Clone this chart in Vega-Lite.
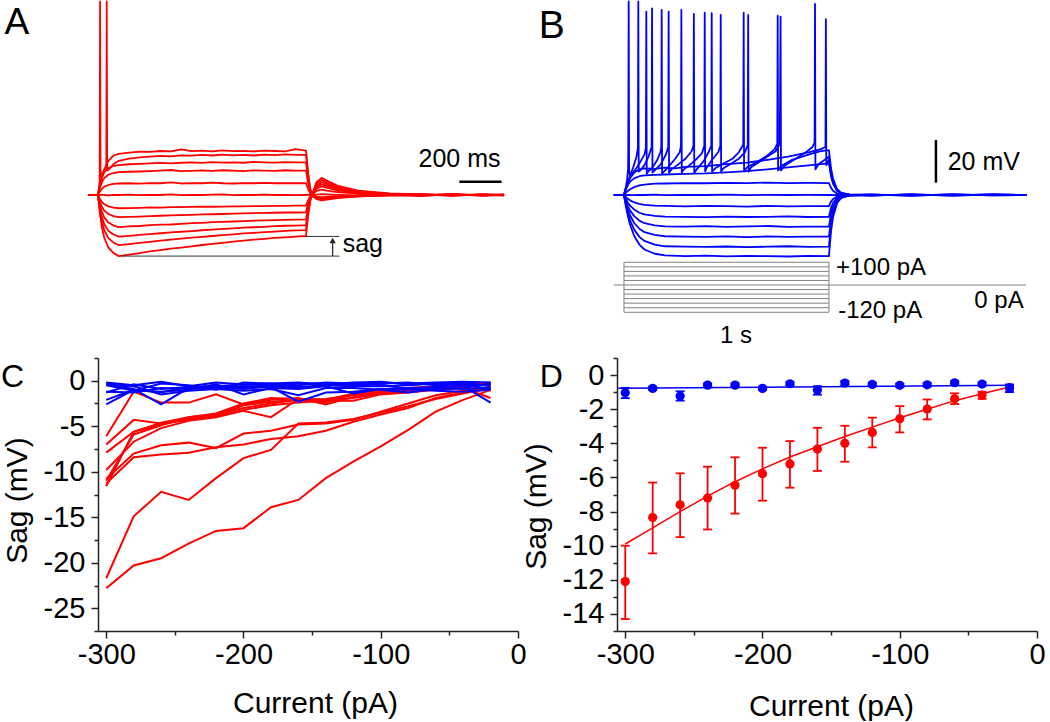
{
"$schema":"https://vega.github.io/schema/vega-lite/v6.json",
"background":"white",
"padding":{"left":0,"top":0,"right":0,"bottom":0},
"autosize":{"type":"pad"},
"config":{
 "view":{"stroke":null},
 "font":"Liberation Sans",
 "axis":{"labelFont":"Liberation Sans","titleFont":"Liberation Sans","labelFontSize":29,"titleFontSize":30,"titleFontWeight":"normal","labelColor":"#000","titleColor":"#000","domainColor":"#222","tickColor":"#222","domainWidth":1.5,"tickWidth":1.5,"tickSize":6,"grid":false,"labelOverlap":false,"labelFlush":false},
 "text":{"font":"Liberation Sans"}
},
"columns":2,
"bounds":"flush",
"spacing":{"row":28,"column":99},
"datasets":{
 "tA":[
  {"t":-48,"a1":0,"a2":0,"a3":0,"a4":0,"a5":0,"a6":0,"a7":0,"a8":0,"a9":0,"a10":0,"a11":0,"a12":0},
  {"t":0,"a1":0,"a2":0,"a3":0,"a4":0,"a5":0,"a6":0,"a7":0,"a8":0,"a9":0,"a10":0,"a11":0,"a12":0},
  {"t":5,"a1":3.5,"a2":2.8,"a3":2.7,"a4":2.0,"a5":1.0,"a6":0.1,"a7":-1.1,"a8":-1.9,"a9":-2.7,"a10":-3.5,"a11":-4.2,"a12":-5.1},
  {"t":8,"a1":6.5},
  {"t":10,"a1":90.6,"a2":5.2,"a3":5.0,"a4":3.7,"a5":1.8,"a6":-0.1,"a7":-2.0,"a8":-3.4,"a9":-5.0,"a10":-6.4,"a11":-7.8,"a12":-9.4},
  {"t":12,"a1":12},
  {"t":15,"a1":8.5},
  {"t":20,"a1":9.0,"a2":9.0,"a3":8.4,"a4":6.2,"a5":3.0,"a6":0.2,"a7":-3.4,"a8":-5.7,"a9":-8.3,"a10":-10.7,"a11":-12.9,"a12":-15.7},
  {"t":30,"a1":12.0,"a2":11.5,"a3":10.6,"a4":7.9,"a5":3.9,"a6":0.0,"a7":-4.3,"a8":-7.3,"a9":-10.5,"a10":-13.7,"a11":-16.5,"a12":-20.0},
  {"t":40,"a2":13.2},
  {"t":42,"a2":90.6},
  {"t":44,"a2":14},
  {"t":47,"a2":11.5},
  {"t":50,"a1":16.0,"a2":11.8,"a3":12.6,"a4":9.5,"a5":4.7,"a6":-0.2,"a7":-5.3,"a8":-8.9,"a9":-12.9,"a10":-16.8,"a11":-20.2,"a12":-24.6},
  {"t":75,"a1":18.5,"a2":14.5,"a3":13.6,"a4":10.3,"a5":5.2,"a6":0.1,"a7":-5.9,"a8":-9.9,"a9":-14.3,"a10":-18.5,"a11":-22.3,"a12":-27.2},
  {"t":100,"a1":19.3,"a2":16.0,"a3":14.0,"a4":10.7,"a5":5.4,"a6":0.0,"a7":-6.2,"a8":-10.4,"a9":-15.0,"a10":-19.5,"a11":-23.5,"a12":-28.6},
  {"t":150,"a1":19.8,"a2":17.0,"a3":14.4,"a4":10.9,"a5":5.5,"a6":0.2,"a7":-6.1,"a8":-10.2,"a9":-14.7,"a10":-19.1,"a11":-23.0,"a12":-27.9},
  {"t":200,"a1":20.3,"a2":17.6,"a3":14.6,"a4":11.0,"a5":5.3,"a6":-0.1,"a7":-6.0,"a8":-10.1,"a9":-14.5,"a10":-18.7,"a11":-22.4,"a12":-27.2},
  {"t":250,"a1":20.2,"a2":18.0,"a3":14.8,"a4":11.2,"a5":5.6,"a6":0.1,"a7":-5.8,"a8":-9.9,"a9":-14.1,"a10":-18.3,"a11":-21.9,"a12":-26.4},
  {"t":300,"a1":20.6,"a2":18.3,"a3":15.0,"a4":11.4,"a5":5.5,"a6":0.0,"a7":-5.9,"a8":-9.7,"a9":-13.9,"a10":-17.9,"a11":-21.4,"a12":-25.8},
  {"t":350,"a1":20.4,"a2":18.1,"a3":14.8,"a4":11.7,"a5":5.9,"a6":0.3,"a7":-5.7,"a8":-9.5,"a9":-13.8,"a10":-17.5,"a11":-20.9,"a12":-25.1},
  {"t":400,"a1":21.4,"a2":18.6,"a3":15.1,"a4":11.2,"a5":5.4,"a6":-0.1,"a7":-5.7,"a8":-9.4,"a9":-13.5,"a10":-17.2,"a11":-20.4,"a12":-24.6},
  {"t":450,"a1":20.5,"a2":18.4,"a3":15.3,"a4":11.3,"a5":5.6,"a6":0.1,"a7":-5.6,"a8":-9.3,"a9":-13.2,"a10":-16.9,"a11":-20.0,"a12":-24.0},
  {"t":500,"a1":20.8,"a2":18.8,"a3":15.0,"a4":11.5,"a5":5.5,"a6":0.0,"a7":-5.4,"a8":-9.1,"a9":-13.0,"a10":-16.5,"a11":-19.6,"a12":-23.4},
  {"t":550,"a1":20.4,"a2":18.5,"a3":15.4,"a4":11.3,"a5":5.8,"a6":0.2,"a7":-5.5,"a8":-9.0,"a9":-12.7,"a10":-16.2,"a11":-19.2,"a12":-22.9},
  {"t":600,"a1":20.9,"a2":18.9,"a3":15.2,"a4":11.6,"a5":5.5,"a6":0.3,"a7":-5.4,"a8":-8.9,"a9":-12.6,"a10":-15.9,"a11":-18.8,"a12":-22.4},
  {"t":650,"a1":20.5,"a2":18.6,"a3":15.3,"a4":11.4,"a5":5.4,"a6":-0.1,"a7":-5.3,"a8":-8.7,"a9":-12.4,"a10":-15.6,"a11":-18.4,"a12":-21.8},
  {"t":700,"a1":20.7,"a2":18.8,"a3":15.1,"a4":11.2,"a5":5.6,"a6":0.1,"a7":-5.3,"a8":-8.6,"a9":-12.2,"a10":-15.3,"a11":-18.0,"a12":-21.4},
  {"t":750,"a1":20.4,"a2":18.5,"a3":15.5,"a4":11.5,"a5":5.5,"a6":0.0,"a7":-5.2,"a8":-8.5,"a9":-12.0,"a10":-15.1,"a11":-17.7,"a12":-20.9},
  {"t":800,"a1":20.8,"a2":18.9,"a3":15.3,"a4":11.4,"a5":5.7,"a6":0.2,"a7":-5.2,"a8":-8.4,"a9":-11.9,"a10":-14.9,"a11":-17.4,"a12":-20.5},
  {"t":850,"a1":20.6,"a2":18.7,"a3":15.2,"a4":11.3,"a5":5.5,"a6":0.0,"a7":-5.1,"a8":-8.3,"a9":-11.8,"a10":-14.6,"a11":-17.1,"a12":-20.1},
  {"t":900,"a1":20.4,"a2":19.0,"a3":15.4,"a4":11.6,"a5":5.6,"a6":0.1,"a7":-5.1,"a8":-8.2,"a9":-11.6,"a10":-14.4,"a11":-16.8,"a12":-19.8},
  {"t":950,"a1":21.5,"a2":18.8,"a3":15.3,"a4":11.4,"a5":5.5,"a6":-0.1,"a7":-5.0,"a8":-8.2,"a9":-11.5,"a10":-14.3,"a11":-16.6,"a12":-19.5},
  {"t":1000,"a1":20.8,"a2":18.8,"a3":15.3,"a4":11.4,"a5":5.5,"a6":0.0,"a7":-5.0,"a8":-8.1,"a9":-11.4,"a10":-14.1,"a11":-16.4,"a12":-19.2},
  {"t":1010,"a1":10.4,"a2":9.4,"a3":7.7,"a4":5.7,"a5":2.8,"a6":0.2,"a7":-2.5,"a8":-4.0,"a9":-5.7,"a10":-7.0,"a11":-8.2,"a12":-9.6},
  {"t":1020,"a1":3.1,"a2":2.8,"a3":2.3,"a4":1.7,"a5":0.8,"a6":-0.1,"a7":-0.8,"a8":-1.2,"a9":-1.7,"a10":-2.1,"a11":-2.5,"a12":-2.9},
  {"t":1030,"a1":-0.3,"a2":-0.3,"a3":-0.2,"a4":-0.2,"a5":-0.1,"a6":0.1,"a7":0.0,"a8":0.1,"a9":0.1,"a10":0.2,"a11":0.2,"a12":0.3},
  {"t":1050,"a1":-1.9,"a2":-1.7,"a3":-1.5,"a4":-1.1,"a5":-0.8,"a6":0.2,"a7":1.9,"a8":3.0,"a9":3.8,"a10":4.5,"a11":5.3,"a12":6.0},
  {"t":1075,"a1":-2.5,"a2":-2.2,"a3":-2.0,"a4":-1.5,"a5":-1.0,"a6":0.4,"a7":2.5,"a8":4.0,"a9":5.0,"a10":6.0,"a11":7.0,"a12":8.0},
  {"t":1100,"a1":-2.1,"a2":-1.9,"a3":-1.7,"a4":-1.3,"a5":-0.9,"a6":0.3,"a7":2.1,"a8":3.4,"a9":4.3,"a10":5.1,"a11":6.0,"a12":6.8},
  {"t":1150,"a1":-1.4,"a2":-1.2,"a3":-1.1,"a4":-0.8,"a5":-0.6,"a6":0.1,"a7":1.4,"a8":2.2,"a9":2.8,"a10":3.3,"a11":3.9,"a12":4.4},
  {"t":1250,"a1":-0.6,"a2":-0.6,"a3":-0.5,"a4":-0.4,"a5":-0.3,"a6":-0.2,"a7":0.6,"a8":1.0,"a9":1.3,"a10":1.5,"a11":1.8,"a12":2.0},
  {"t":1400,"a1":0.0,"a2":-0.2,"a3":-0.2,"a4":-0.1,"a5":0.2,"a6":0.3,"a7":0.1,"a8":0.4,"a9":0.3,"a10":0.6,"a11":0.5,"a12":0.7},
  {"t":1550,"a1":0.3,"a2":-0.3,"a3":0.2,"a4":0.3,"a5":-0.2,"a6":-0.3,"a7":-0.3,"a8":0.3,"a9":-0.2,"a10":0.2,"a11":-0.3,"a12":0.3},
  {"t":1700,"a1":-0.3,"a2":0.2,"a3":0.3,"a4":-0.2,"a5":0.3,"a6":0.2,"a7":0.2,"a8":-0.2,"a9":0.3,"a10":-0.3,"a11":0.4,"a12":-0.2},
  {"t":1850,"a1":0.2,"a2":0.1,"a3":-0.2,"a4":0.2,"a5":-0.3,"a6":0.0,"a7":-0.1,"a8":0.2,"a9":-0.3,"a10":0.3,"a11":-0.2,"a12":0.3},
  {"t":1952,"a1":0.0,"a2":-0.2,"a3":0.1,"a4":-0.1,"a5":0.1,"a6":-0.2,"a7":0.3,"a8":-0.2,"a9":0.2,"a10":-0.1,"a11":0.2,"a12":0.0}
 ],
 "tB":[
  {"t":-49,"b4":0,"b5":0,"b6":0,"b7":0,"b8":0,"b9":0,"b10":0,"b11":0,"b12":0},
  {"t":0,"b4":0,"b5":0,"b6":0,"b7":0,"b8":0,"b9":0,"b10":0,"b11":0,"b12":0},
  {"t":5,"b4":1.4,"b5":0.6,"b6":0.1,"b7":-0.5,"b8":-1.1,"b9":-1.6,"b10":-2.0,"b11":-2.5,"b12":-3.0},
  {"t":10,"b4":2.7,"b5":1.1,"b6":-0.1,"b7":-1.0,"b8":-2.0,"b9":-3.0,"b10":-3.9,"b11":-4.8,"b12":-5.7},
  {"t":20,"b4":4.8,"b5":2.0,"b6":0.1,"b7":-1.9,"b8":-3.7,"b9":-5.3,"b10":-7.0,"b11":-8.7,"b12":-10.3},
  {"t":30,"b4":6.3,"b5":2.7,"b6":0,"b7":-2.5,"b8":-5.0,"b9":-7.3,"b10":-9.6,"b11":-11.9,"b12":-14.0},
  {"t":50,"b4":7.8,"b5":3.7,"b6":-0.1,"b7":-3.5,"b8":-6.8,"b9":-9.9,"b10":-13.1,"b11":-16.2,"b12":-19.2},
  {"t":75,"b4":8.8,"b5":4.5,"b6":0.1,"b7":-4.2,"b8":-8.3,"b9":-12.0,"b10":-15.8,"b11":-19.6,"b12":-23.2},
  {"t":100,"b4":9.2,"b5":4.9,"b6":0,"b7":-4.6,"b8":-9.1,"b9":-13.2,"b10":-17.4,"b11":-21.5,"b12":-25.5},
  {"t":150,"b4":9.4,"b5":5.3,"b6":0.2,"b7":-5.0,"b8":-9.8,"b9":-14.2,"b10":-18.7,"b11":-23.2,"b12":-27.5},
  {"t":200,"b4":9.6,"b5":5.4,"b6":-0.1,"b7":-5.1,"b8":-10.1,"b9":-14.7,"b10":-19.3,"b11":-24.0,"b12":-28.3},
  {"t":300,"b4":9.9,"b5":5.6,"b6":0.1,"b7":-5.3,"b8":-10.2,"b9":-14.8,"b10":-19.5,"b11":-24.2,"b12":-28.6},
  {"t":400,"b4":10.1,"b5":5.5,"b6":0,"b7":-5.1,"b8":-10.4,"b9":-14.6,"b10":-19.6,"b11":-24.3,"b12":-28.4},
  {"t":500,"b4":10.6,"b5":5.7,"b6":0.2,"b7":-5.2,"b8":-10.1,"b9":-14.9,"b10":-19.4,"b11":-24.1,"b12":-28.7},
  {"t":600,"b4":11.2,"b5":5.6,"b6":-0.1,"b7":-5.4,"b8":-10.3,"b9":-14.7,"b10":-19.7,"b11":-24.4,"b12":-28.5},
  {"t":700,"b4":12.0,"b5":5.8,"b6":0.1,"b7":-5.1,"b8":-10.2,"b9":-14.5,"b10":-19.4,"b11":-24.2,"b12":-28.6},
  {"t":800,"b4":12.9,"b5":5.6,"b6":0,"b7":-5.3,"b8":-10.0,"b9":-14.9,"b10":-19.6,"b11":-24.0,"b12":-28.8},
  {"t":900,"b4":13.9,"b5":5.7,"b6":0.1,"b7":-5.2,"b8":-10.3,"b9":-14.8,"b10":-19.5,"b11":-24.3,"b12":-28.5},
  {"t":1000,"b4":14.8,"b5":5.6,"b6":0,"b7":-5.2,"b8":-10.2,"b9":-14.8,"b10":-19.5,"b11":-24.2,"b12":-28.6},
  {"t":1010,"b4":8.9,"b5":3.4,"b6":0.1,"b7":-3.1,"b8":-6.1,"b9":-8.9,"b10":-11.7,"b11":-14.5,"b12":-17.2},
  {"t":1020,"b4":5.3,"b5":2.0,"b6":-0.1,"b7":-1.9,"b8":-3.7,"b9":-5.3,"b10":-7.0,"b11":-8.7,"b12":-10.3},
  {"t":1040,"b4":1.9,"b5":0.7,"b6":0,"b7":-0.7,"b8":-1.3,"b9":-1.9,"b10":-2.5,"b11":-3.1,"b12":-3.7},
  {"t":1060,"b4":0.7,"b5":0.3,"b6":0.1,"b7":-0.3,"b8":-0.5,"b9":-0.7,"b10":-1.0,"b11":-1.2,"b12":-1.4},
  {"t":1100,"b4":0.1,"b5":0.1,"b6":-0.1,"b7":-0.1,"b8":-0.1,"b9":-0.1,"b10":-0.2,"b11":-0.2,"b12":-0.3},
  {"t":1200,"b4":-0.2,"b5":0.2,"b6":0.2,"b7":0.1,"b8":-0.2,"b9":0.2,"b10":0.1,"b11":-0.1,"b12":0.1},
  {"t":1400,"b4":0.2,"b5":-0.2,"b6":-0.2,"b7":-0.2,"b8":0.2,"b9":-0.1,"b10":-0.2,"b11":0.2,"b12":-0.1},
  {"t":1600,"b4":-0.2,"b5":0.2,"b6":0.1,"b7":0.2,"b8":-0.1,"b9":0.2,"b10":0.1,"b11":-0.2,"b12":0.2},
  {"t":1800,"b4":0.2,"b5":-0.1,"b6":-0.1,"b7":-0.1,"b8":0.2,"b9":-0.2,"b10":0.2,"b11":0.1,"b12":-0.1},
  {"t":1966,"b4":0,"b5":0,"b6":0,"b7":0,"b8":0,"b9":0,"b10":0,"b11":0,"b12":0}
 ],
 "sB":[
  {"tr":"s1","t":-49,"v":0},{"tr":"s1","t":0,"v":0},{"tr":"s1","t":5,"v":2},{"tr":"s1","t":10,"v":4},{"tr":"s1","t":15,"v":7},{"tr":"s1","t":20,"v":12},{"tr":"s1","t":21,"v":20},{"tr":"s1","t":23,"v":90.6},{"tr":"s1","t":25,"v":12},{"tr":"s1","t":30,"v":8},{"tr":"s1","t":40,"v":10},{"tr":"s1","t":60,"v":12.5},{"tr":"s1","t":80,"v":15.5},{"tr":"s1","t":100,"v":19},{"tr":"s1","t":107,"v":22},{"tr":"s1","t":109,"v":85.9},{"tr":"s1","t":111,"v":10},{"tr":"s1","t":118,"v":11},{"tr":"s1","t":140,"v":13},{"tr":"s1","t":160,"v":16},{"tr":"s1","t":178,"v":20},{"tr":"s1","t":182,"v":22.5},{"tr":"s1","t":184,"v":86.7},{"tr":"s1","t":186,"v":10},{"tr":"s1","t":195,"v":11},{"tr":"s1","t":220,"v":13.5},{"tr":"s1","t":250,"v":17},{"tr":"s1","t":272,"v":20},{"tr":"s1","t":278,"v":23},{"tr":"s1","t":280,"v":86.7},{"tr":"s1","t":282,"v":10.5},{"tr":"s1","t":292,"v":12},{"tr":"s1","t":320,"v":14},{"tr":"s1","t":350,"v":16.5},{"tr":"s1","t":380,"v":19.5},{"tr":"s1","t":392,"v":23},{"tr":"s1","t":394,"v":85.4},{"tr":"s1","t":396,"v":11},{"tr":"s1","t":405,"v":13},{"tr":"s1","t":430,"v":16.5},{"tr":"s1","t":460,"v":20},{"tr":"s1","t":470,"v":23},{"tr":"s1","t":472,"v":84.3},{"tr":"s1","t":474,"v":11},{"tr":"s1","t":485,"v":12.5},{"tr":"s1","t":520,"v":14.5},{"tr":"s1","t":560,"v":17},{"tr":"s1","t":590,"v":20},{"tr":"s1","t":604,"v":23.5},{"tr":"s1","t":606,"v":84.3},{"tr":"s1","t":608,"v":11},{"tr":"s1","t":620,"v":13},{"tr":"s1","t":660,"v":15.5},{"tr":"s1","t":700,"v":18},{"tr":"s1","t":740,"v":20.5},{"tr":"s1","t":760,"v":24},{"tr":"s1","t":764,"v":83.5},{"tr":"s1","t":766,"v":11.5},{"tr":"s1","t":780,"v":13.5},{"tr":"s1","t":830,"v":16.5},{"tr":"s1","t":880,"v":19.5},{"tr":"s1","t":920,"v":22.5},{"tr":"s1","t":930,"v":24.5},{"tr":"s1","t":932,"v":89.5},{"tr":"s1","t":934,"v":12},{"tr":"s1","t":950,"v":14.5},{"tr":"s1","t":980,"v":16.5},{"tr":"s1","t":1000,"v":18},{"tr":"s1","t":1010,"v":10.8},{"tr":"s1","t":1020,"v":6.5},{"tr":"s1","t":1040,"v":2.3},{"tr":"s1","t":1060,"v":0.9},{"tr":"s1","t":1100,"v":0.2},{"tr":"s1","t":1200,"v":-0.3},{"tr":"s1","t":1400,"v":0.3},{"tr":"s1","t":1600,"v":-0.2},{"tr":"s1","t":1800,"v":0.3},{"tr":"s1","t":1966,"v":0},
  {"tr":"s2","t":-49,"v":0},{"tr":"s2","t":0,"v":0},{"tr":"s2","t":5,"v":1.8},{"tr":"s2","t":10,"v":3.5},{"tr":"s2","t":20,"v":6.5},{"tr":"s2","t":30,"v":9},{"tr":"s2","t":45,"v":13},{"tr":"s2","t":60,"v":17.5},{"tr":"s2","t":68,"v":22},{"tr":"s2","t":70,"v":90.6},{"tr":"s2","t":72,"v":11},{"tr":"s2","t":80,"v":11.5},{"tr":"s2","t":100,"v":14},{"tr":"s2","t":120,"v":18},{"tr":"s2","t":135,"v":22.5},{"tr":"s2","t":137,"v":87.4},{"tr":"s2","t":139,"v":10.5},{"tr":"s2","t":150,"v":11.5},{"tr":"s2","t":180,"v":14.5},{"tr":"s2","t":205,"v":19},{"tr":"s2","t":216,"v":22.5},{"tr":"s2","t":218,"v":85.9},{"tr":"s2","t":220,"v":10.5},{"tr":"s2","t":232,"v":12},{"tr":"s2","t":260,"v":14},{"tr":"s2","t":300,"v":17},{"tr":"s2","t":330,"v":20.5},{"tr":"s2","t":339,"v":23},{"tr":"s2","t":341,"v":84.8},{"tr":"s2","t":343,"v":10.5},{"tr":"s2","t":355,"v":12},{"tr":"s2","t":390,"v":16},{"tr":"s2","t":415,"v":20.5},{"tr":"s2","t":426,"v":23},{"tr":"s2","t":428,"v":85.1},{"tr":"s2","t":430,"v":11},{"tr":"s2","t":445,"v":12.5},{"tr":"s2","t":490,"v":15},{"tr":"s2","t":530,"v":17},{"tr":"s2","t":560,"v":20},{"tr":"s2","t":582,"v":23.5},{"tr":"s2","t":584,"v":85.4},{"tr":"s2","t":586,"v":11},{"tr":"s2","t":600,"v":13},{"tr":"s2","t":650,"v":15.5},{"tr":"s2","t":700,"v":18.5},{"tr":"s2","t":735,"v":21.5},{"tr":"s2","t":748,"v":24},{"tr":"s2","t":750,"v":84},{"tr":"s2","t":752,"v":11.5},{"tr":"s2","t":765,"v":13.5},{"tr":"s2","t":820,"v":16.5},{"tr":"s2","t":870,"v":18},{"tr":"s2","t":920,"v":19.5},{"tr":"s2","t":960,"v":20.5},{"tr":"s2","t":1000,"v":21},{"tr":"s2","t":1010,"v":12.6},{"tr":"s2","t":1020,"v":7.6},{"tr":"s2","t":1040,"v":2.7},{"tr":"s2","t":1060,"v":1},{"tr":"s2","t":1100,"v":0.3},{"tr":"s2","t":1200,"v":0.2},{"tr":"s2","t":1400,"v":-0.3},{"tr":"s2","t":1600,"v":0.3},{"tr":"s2","t":1800,"v":-0.2},{"tr":"s2","t":1966,"v":0},
  {"tr":"s3","t":-49,"v":0},{"tr":"s3","t":0,"v":0},{"tr":"s3","t":5,"v":1.6},{"tr":"s3","t":10,"v":3.2},{"tr":"s3","t":20,"v":6},{"tr":"s3","t":30,"v":8},{"tr":"s3","t":50,"v":10.5},{"tr":"s3","t":75,"v":12},{"tr":"s3","t":100,"v":12.5},{"tr":"s3","t":150,"v":12.2},{"tr":"s3","t":200,"v":12.8},{"tr":"s3","t":250,"v":12.5},{"tr":"s3","t":300,"v":13.2},{"tr":"s3","t":400,"v":13.5},{"tr":"s3","t":500,"v":14.5},{"tr":"s3","t":600,"v":15.2},{"tr":"s3","t":700,"v":16.5},{"tr":"s3","t":800,"v":18},{"tr":"s3","t":900,"v":20},{"tr":"s3","t":960,"v":21.5},{"tr":"s3","t":983,"v":22.5},{"tr":"s3","t":985,"v":82.3},{"tr":"s3","t":987,"v":14},{"tr":"s3","t":993,"v":15.5},{"tr":"s3","t":1000,"v":16.5},{"tr":"s3","t":1010,"v":9.9},{"tr":"s3","t":1020,"v":6},{"tr":"s3","t":1040,"v":2.1},{"tr":"s3","t":1060,"v":0.8},{"tr":"s3","t":1100,"v":0.2},{"tr":"s3","t":1200,"v":-0.2},{"tr":"s3","t":1400,"v":0.2},{"tr":"s3","t":1600,"v":-0.3},{"tr":"s3","t":1800,"v":0.2},{"tr":"s3","t":1966,"v":0}
 ],
 "stim":[
  {"I":100,"t0":0,"t1":1000},{"I":80,"t0":0,"t1":1000},{"I":60,"t0":0,"t1":1000},{"I":40,"t0":0,"t1":1000},{"I":20,"t0":0,"t1":1000},{"I":0,"t0":-49,"t1":1961},{"I":-20,"t0":0,"t1":1000},{"I":-40,"t0":0,"t1":1000},{"I":-60,"t0":0,"t1":1000},{"I":-80,"t0":0,"t1":1000},{"I":-100,"t0":0,"t1":1000},{"I":-120,"t0":0,"t1":1000}
 ],
 "tC":[
  {"I":-300,"r1":-6.1,"r2":-7.0,"r3":-7.9,"r4":-9.8,"r5":-11.0,"r6":-10.8,"r7":-11.3,"r8":-11.6,"r9":-21.7,"r10":-22.8,"u1":-0.2,"u2":-0.4,"u3":-2.6,"u4":-2.1,"u5":-1.2,"u6":-0.3,"u7":-0.5,"u8":-1.3},
  {"I":-280,"r1":-1.2,"r2":-4.3,"r3":-5.6,"r4":-6.7,"r5":-5.9,"r6":-8.0,"r7":-8.4,"r8":-5.6,"r9":-14.9,"r10":-20.3,"u1":-0.5,"u2":-0.9,"u3":-1.0,"u4":-1.0,"u5":-1.3,"u6":-0.6,"u7":-1.1,"u8":-0.4},
  {"I":-260,"r1":-2.4,"r2":-4.7,"r3":-4.8,"r4":-5.2,"r5":-4.9,"r6":-7.1,"r7":-8.1,"r8":-4.6,"r9":-12.2,"r10":-19.5,"u1":-0.1,"u2":-2.6,"u3":-1.3,"u4":-1.2,"u5":-0.8,"u6":-1.5,"u7":-0.3,"u8":-0.9},
  {"I":-240,"r1":-2.4,"r2":-4.3,"r3":-4.2,"r4":-4.4,"r5":-4.0,"r6":-6.8,"r7":-7.9,"r8":-4.0,"r9":-13.1,"r10":-17.9,"u1":-0.6,"u2":-0.8,"u3":-0.6,"u4":-1.0,"u5":-0.9,"u6":-1.1,"u7":-0.5,"u8":-0.7},
  {"I":-220,"r1":-1.5,"r2":-3.9,"r3":-3.8,"r4":-4.0,"r5":-3.7,"r6":-7.4,"r7":-7.3,"r8":-3.6,"r9":-10.7,"r10":-16.5,"u1":-0.2,"u2":-0.5,"u3":-0.8,"u4":-0.4,"u5":-0.7,"u6":-0.9,"u7":-1.0,"u8":-0.6},
  {"I":-200,"r1":-2.6,"r2":-3.2,"r3":-2.7,"r4":-3.3,"r5":-3.0,"r6":-5.8,"r7":-7.0,"r8":-2.5,"r9":-8.5,"r10":-16.2,"u1":-0.4,"u2":-0.8,"u3":-0.6,"u4":-1.5,"u5":-0.9,"u6":-1.1,"u7":-0.2,"u8":-0.4},
  {"I":-180,"r1":-2.1,"r2":-2.7,"r3":-2.3,"r4":-4.0,"r5":-2.5,"r6":-5.5,"r7":-6.4,"r8":-1.9,"r9":-7.6,"r10":-13.9,"u1":-0.3,"u2":-0.4,"u3":-0.7,"u4":-0.8,"u5":-0.6,"u6":-0.9,"u7":-0.3,"u8":-0.5},
  {"I":-160,"r1":-1.9,"r2":-2.4,"r3":-2.1,"r4":-2.0,"r5":-2.1,"r6":-4.8,"r7":-6.1,"r8":-2.0,"r9":-4.7,"r10":-13.1,"u1":-0.5,"u2":-0.7,"u3":-2.3,"u4":-0.9,"u5":-0.8,"u6":-1.6,"u7":-0.2,"u8":-0.3},
  {"I":-140,"r1":-2.6,"r2":-2.2,"r3":-2.0,"r4":-2.2,"r5":-2.4,"r6":-4.7,"r7":-5.5,"r8":-2.1,"r9":-4.6,"r10":-10.7,"u1":-0.2,"u2":-0.5,"u3":-1.3,"u4":-0.6,"u5":-0.5,"u6":-0.8,"u7":-0.4,"u8":-0.3},
  {"I":-120,"r1":-1.8,"r2":-1.9,"r3":-1.6,"r4":-2.2,"r5":-1.5,"r6":-4.3,"r7":-4.5,"r8":-1.4,"r9":-4.2,"r10":-8.9,"u1":-0.3,"u2":-0.6,"u3":-1.2,"u4":-1.4,"u5":-0.5,"u6":-0.8,"u7":-0.2,"u8":-0.5},
  {"I":-100,"r1":-1.3,"r2":-1.4,"r3":-1.2,"r4":-1.5,"r5":-1.0,"r6":-3.4,"r7":-3.7,"r8":-1.0,"r9":-3.5,"r10":-7.2,"u1":-0.2,"u2":-0.6,"u3":-0.9,"u4":-0.9,"u5":-0.4,"u6":-1.0,"u7":-0.1,"u8":-0.3},
  {"I":-80,"r1":-1.2,"r2":-1.1,"r3":-0.9,"r4":-1.3,"r5":-0.8,"r6":-2.5,"r7":-3.0,"r8":-0.9,"r9":-2.8,"r10":-5.4,"u1":-0.3,"u2":-0.5,"u3":-1.0,"u4":-0.8,"u5":-0.9,"u6":-1.3,"u7":-0.4,"u8":-0.2},
  {"I":-60,"r1":-0.9,"r2":-0.8,"r3":-0.7,"r4":-1.0,"r5":-0.6,"r6":-1.6,"r7":-1.9,"r8":-0.7,"r9":-2.0,"r10":-3.4,"u1":-0.2,"u2":-0.3,"u3":-0.8,"u4":-0.7,"u5":-1.1,"u6":-0.9,"u7":-0.3,"u8":-0.5},
  {"I":-40,"r1":-0.6,"r2":-0.5,"r3":-0.5,"r4":-0.8,"r5":-0.4,"r6":-1.1,"r7":-1.3,"r8":-0.4,"r9":-1.4,"r10":-2.1,"u1":-0.1,"u2":-0.4,"u3":-0.9,"u4":-0.6,"u5":-1.2,"u6":-0.8,"u7":-0.2,"u8":-0.4},
  {"I":-20,"r1":-0.4,"r2":-0.3,"r3":-0.3,"r4":-1.9,"r5":-1.1,"r6":-0.7,"r7":-0.9,"r8":-0.2,"r9":-0.8,"r10":-1.0,"u1":-0.2,"u2":-0.5,"u3":-0.8,"u4":-2.4,"u5":-1.0,"u6":-0.3,"u7":-0.6,"u8":-0.9}
 ],
 "dR":[
  {"I":-300,"m":-12.1,"lo":-14.3,"hi":-10.0},{"I":-280,"m":-8.35,"lo":-10.45,"hi":-6.3},{"I":-260,"m":-7.6,"lo":-9.5,"hi":-5.76},{"I":-240,"m":-7.2,"lo":-9.05,"hi":-5.37},{"I":-220,"m":-6.46,"lo":-8.12,"hi":-4.82},{"I":-200,"m":-5.78,"lo":-7.36,"hi":-4.26},{"I":-180,"m":-5.21,"lo":-6.6,"hi":-3.87},{"I":-160,"m":-4.34,"lo":-5.62,"hi":-3.09},{"I":-140,"m":-4.0,"lo":-5.08,"hi":-2.97},{"I":-120,"m":-3.36,"lo":-4.24,"hi":-2.5},{"I":-100,"m":-2.56,"lo":-3.36,"hi":-1.82},{"I":-80,"m":-1.99,"lo":-2.6,"hi":-1.43},{"I":-60,"m":-1.39,"lo":-1.7,"hi":-1.07},{"I":-40,"m":-1.17,"lo":-1.4,"hi":-0.98},{"I":-20,"m":-0.78,"lo":-1.0,"hi":-0.6}
 ],
 "dB":[
  {"I":-300,"m":-1.04,"lo":-1.35,"hi":-0.75},{"I":-280,"m":-0.78,"lo":-0.88,"hi":-0.68},{"I":-260,"m":-1.23,"lo":-1.5,"hi":-0.95},{"I":-240,"m":-0.59,"lo":-0.69,"hi":-0.49},{"I":-220,"m":-0.59,"lo":-0.69,"hi":-0.49},{"I":-200,"m":-0.78,"lo":-0.88,"hi":-0.68},{"I":-180,"m":-0.51,"lo":-0.61,"hi":-0.41},{"I":-160,"m":-0.88,"lo":-1.15,"hi":-0.65},{"I":-140,"m":-0.47,"lo":-0.6,"hi":-0.35},{"I":-120,"m":-0.55,"lo":-0.65,"hi":-0.45},{"I":-100,"m":-0.6,"lo":-0.7,"hi":-0.5},{"I":-80,"m":-0.57,"lo":-0.67,"hi":-0.47},{"I":-60,"m":-0.45,"lo":-0.55,"hi":-0.35},{"I":-40,"m":-0.53,"lo":-0.63,"hi":-0.43},{"I":-20,"m":-0.74,"lo":-1.0,"hi":-0.55}
 ],
 "fR":[
  {"I":-300,"v":-9.9},{"I":-280,"v":-8.95},{"I":-260,"v":-8.0},{"I":-240,"v":-7.1},{"I":-220,"v":-6.25},{"I":-200,"v":-5.5},{"I":-180,"v":-4.8},{"I":-160,"v":-4.2},{"I":-140,"v":-3.6},{"I":-120,"v":-3.05},{"I":-100,"v":-2.5},{"I":-80,"v":-2.0},{"I":-60,"v":-1.5},{"I":-40,"v":-1.1},{"I":-20,"v":-0.7}
 ],
 "fB":[
  {"I":-305,"v":-0.78},{"I":-20,"v":-0.6}
 ]
},
"concat":[
 {
  "width":420,"height":330,
  "layer":[
   {"data":{"name":"tA"},
    "transform":[{"fold":["a1","a2","a3","a4","a5","a6","a7","a8","a9","a10","a11","a12"],"as":["trace","v"]},{"filter":"isValid(datum.v)"}],
    "mark":{"type":"line","color":"#ff0000","strokeWidth":1.8,"strokeJoin":"round"},
    "encoding":{
     "x":{"field":"t","type":"quantitative","scale":{"domain":[0,2019],"nice":false,"zero":false},"axis":null},
     "y":{"field":"v","type":"quantitative","scale":{"domain":[-63.2,91.3],"nice":false,"zero":false},"axis":null},
     "detail":{"field":"trace","type":"nominal"}}},
   {"data":{"values":[{}]},"mark":{"type":"rule","color":"#333","strokeWidth":1},
    "encoding":{"x":{"datum":1000,"type":"quantitative","scale":{"domain":[0,2019],"nice":false,"zero":false},"axis":null},"x2":{"datum":1160},
     "y":{"datum":-19.4,"type":"quantitative","scale":{"domain":[-63.2,91.3],"nice":false,"zero":false},"axis":null}}},
   {"data":{"values":[{}]},"mark":{"type":"rule","color":"#333","strokeWidth":1},
    "encoding":{"x":{"datum":114,"type":"quantitative","scale":{"domain":[0,2019],"nice":false,"zero":false},"axis":null},"x2":{"datum":1160},
     "y":{"datum":-28.6,"type":"quantitative","scale":{"domain":[-63.2,91.3],"nice":false,"zero":false},"axis":null}}},
   {"data":{"values":[{}]},"mark":{"type":"rule","color":"#222","strokeWidth":1.2},
    "encoding":{"x":{"datum":1128,"type":"quantitative","scale":{"domain":[0,2019],"nice":false,"zero":false},"axis":null},
     "y":{"datum":-28.6,"type":"quantitative","scale":{"domain":[-63.2,91.3],"nice":false,"zero":false},"axis":null},"y2":{"datum":-21.8}}},
   {"data":{"values":[{}]},"mark":{"type":"point","shape":"triangle-up","filled":true,"size":40,"color":"#222","opacity":1},
    "encoding":{"x":{"datum":1128,"type":"quantitative","scale":{"domain":[0,2019],"nice":false,"zero":false},"axis":null},
     "y":{"datum":-21.3,"type":"quantitative","scale":{"domain":[-63.2,91.3],"nice":false,"zero":false},"axis":null}}},
   {"data":{"values":[{}]},"mark":{"type":"text","text":"sag","fontSize":25,"align":"left","baseline":"alphabetic","color":"#000"},
    "encoding":{"x":{"datum":1176,"type":"quantitative","scale":{"domain":[0,2019],"nice":false,"zero":false},"axis":null},
     "y":{"datum":-26.6,"type":"quantitative","scale":{"domain":[-63.2,91.3],"nice":false,"zero":false},"axis":null}}},
   {"data":{"values":[{}]},"mark":{"type":"rule","color":"#000","strokeWidth":2.5},
    "encoding":{"x":{"datum":1737,"type":"quantitative","scale":{"domain":[0,2019],"nice":false,"zero":false},"axis":null},"x2":{"datum":1940},
     "y":{"datum":6.2,"type":"quantitative","scale":{"domain":[-63.2,91.3],"nice":false,"zero":false},"axis":null}}},
   {"data":{"values":[{}]},"mark":{"type":"text","text":"200 ms","fontSize":25,"align":"right","baseline":"alphabetic","color":"#000"},
    "encoding":{"x":{"datum":1935,"type":"quantitative","scale":{"domain":[0,2019],"nice":false,"zero":false},"axis":null},
     "y":{"datum":13.3,"type":"quantitative","scale":{"domain":[-63.2,91.3],"nice":false,"zero":false},"axis":null}}},
   {"data":{"values":[{}]},"mark":{"type":"text","text":"A","fontSize":37,"align":"left","baseline":"alphabetic","color":"#000"},
    "encoding":{"x":{"datum":-450,"type":"quantitative","scale":{"domain":[0,2019],"nice":false,"zero":false},"axis":null},
     "y":{"datum":75.4,"type":"quantitative","scale":{"domain":[-63.2,91.3],"nice":false,"zero":false},"axis":null}}}
  ]
 },
 {
  "width":420,"height":330,
  "resolve":{"scale":{"y":"independent"}},
  "layer":[
   {"layer":[
    {"data":{"name":"tB"},
     "transform":[{"fold":["b4","b5","b6","b7","b8","b9","b10","b11","b12"],"as":["trace","v"]},{"filter":"isValid(datum.v)"}],
     "mark":{"type":"line","color":"#0000ff","strokeWidth":1.8,"strokeJoin":"round"},
     "encoding":{
      "x":{"field":"t","type":"quantitative","scale":{"domain":[-34,2015],"nice":false,"zero":false},"axis":null},
      "y":{"field":"v","type":"quantitative","scale":{"domain":[-63.2,91.3],"nice":false,"zero":false},"axis":null},
      "detail":{"field":"trace","type":"nominal"}}},
    {"data":{"name":"sB"},
     "mark":{"type":"line","color":"#0000ff","strokeWidth":1.8,"strokeJoin":"round"},
     "encoding":{
      "x":{"field":"t","type":"quantitative","scale":{"domain":[-34,2015],"nice":false,"zero":false},"axis":null},
      "y":{"field":"v","type":"quantitative","scale":{"domain":[-63.2,91.3],"nice":false,"zero":false},"axis":null},
      "detail":{"field":"tr","type":"nominal"}}},
    {"data":{"values":[{}]},"mark":{"type":"rule","color":"#000","strokeWidth":2.5},
     "encoding":{"x":{"datum":1522,"type":"quantitative","scale":{"domain":[-34,2015],"nice":false,"zero":false},"axis":null},
      "y":{"datum":5.8,"type":"quantitative","scale":{"domain":[-63.2,91.3],"nice":false,"zero":false},"axis":null},"y2":{"datum":25.8}}},
    {"data":{"values":[{}]},"mark":{"type":"text","text":"20 mV","fontSize":25,"align":"left","baseline":"alphabetic","color":"#000"},
     "encoding":{"x":{"datum":1579,"type":"quantitative","scale":{"domain":[-34,2015],"nice":false,"zero":false},"axis":null},
      "y":{"datum":11.7,"type":"quantitative","scale":{"domain":[-63.2,91.3],"nice":false,"zero":false},"axis":null}}},
    {"data":{"values":[{}]},"mark":{"type":"text","text":"B","fontSize":39,"align":"left","baseline":"alphabetic","color":"#000"},
     "encoding":{"x":{"datum":-416,"type":"quantitative","scale":{"domain":[-34,2015],"nice":false,"zero":false},"axis":null},
      "y":{"datum":73.5,"type":"quantitative","scale":{"domain":[-63.2,91.3],"nice":false,"zero":false},"axis":null}}}
   ]},
   {"layer":[
    {"data":{"name":"stim"},"mark":{"type":"rule","color":"#808080","strokeWidth":1},
     "encoding":{"x":{"field":"t0","type":"quantitative","scale":{"domain":[-34,2015],"nice":false,"zero":false},"axis":null},"x2":{"field":"t1"},
      "y":{"field":"I","type":"quantitative","scale":{"domain":[-198,1254],"nice":false,"zero":false},"axis":null}}},
    {"data":{"values":[{"t":0},{"t":1000}]},"mark":{"type":"rule","color":"#808080","strokeWidth":1},
     "encoding":{"x":{"field":"t","type":"quantitative","scale":{"domain":[-34,2015],"nice":false,"zero":false},"axis":null},
      "y":{"datum":-120,"type":"quantitative","scale":{"domain":[-198,1254],"nice":false,"zero":false},"axis":null},"y2":{"datum":100}}},
    {"data":{"values":[{}]},"mark":{"type":"text","text":"+100 pA","fontSize":24,"align":"left","baseline":"alphabetic","color":"#000"},
     "encoding":{"x":{"datum":1034,"type":"quantitative","scale":{"domain":[-34,2015],"nice":false,"zero":false},"axis":null},
      "y":{"datum":44,"type":"quantitative","scale":{"domain":[-198,1254],"nice":false,"zero":false},"axis":null}}},
    {"data":{"values":[{}]},"mark":{"type":"text","text":"-120 pA","fontSize":24,"align":"left","baseline":"alphabetic","color":"#000"},
     "encoding":{"x":{"datum":1045,"type":"quantitative","scale":{"domain":[-34,2015],"nice":false,"zero":false},"axis":null},
      "y":{"datum":-146.6,"type":"quantitative","scale":{"domain":[-198,1254],"nice":false,"zero":false},"axis":null}}},
    {"data":{"values":[{}]},"mark":{"type":"text","text":"0 pA","fontSize":24,"align":"right","baseline":"alphabetic","color":"#000"},
     "encoding":{"x":{"datum":1950,"type":"quantitative","scale":{"domain":[-34,2015],"nice":false,"zero":false},"axis":null},
      "y":{"datum":-102.5,"type":"quantitative","scale":{"domain":[-198,1254],"nice":false,"zero":false},"axis":null}}},
    {"data":{"values":[{}]},"mark":{"type":"text","text":"1 s","fontSize":24,"align":"center","baseline":"alphabetic","color":"#000"},
     "encoding":{"x":{"datum":546,"type":"quantitative","scale":{"domain":[-34,2015],"nice":false,"zero":false},"axis":null},
      "y":{"datum":-255,"type":"quantitative","scale":{"domain":[-198,1254],"nice":false,"zero":false},"axis":null}}}
   ]}
  ]
 },
 {
  "width":420,"height":273,
  "layer":[
   {"data":{"name":"tC"},
    "transform":[{"fold":["r1","r2","r3","r4","r5","r6","r7","r8","r9","r10"],"as":["cell","sag"]}],
    "mark":{"type":"line","color":"#ff0000","strokeWidth":2},
    "encoding":{
     "x":{"field":"I","type":"quantitative","scale":{"domain":[-306,0],"nice":false,"zero":false},
      "axis":{"values":[-300,-250,-200,-150,-100,-50,0],"tickCount":50,"tickSize":{"condition":{"test":"datum.value % 100 === 0","value":7},"value":4},"labelExpr":"datum.value % 100 === 0 ? '' + datum.value : ''","labelPadding":2,"title":"Current (pA)","titleX":217,"titleY":81,"titleBaseline":"alphabetic","titleAlign":"center","titleAngle":0}},
     "y":{"field":"sag","type":"quantitative","scale":{"domain":[-27.5,2.5],"nice":false,"zero":false},
      "axis":{"values":[2.5,0,-2.5,-5,-7.5,-10,-12.5,-15,-17.5,-20,-22.5,-25,-27.5],"tickCount":50,"tickSize":{"condition":{"test":"datum.value % 5 === 0","value":7},"value":4},"labelExpr":"datum.value % 5 === 0 ? '' + datum.value : ''","labelPadding":6,"title":"Sag (mV)","titleX":-66,"titleY":142,"titleAngle":-90,"titleBaseline":"bottom","titleAlign":"center"}},
     "detail":{"field":"cell","type":"nominal"}}},
   {"data":{"name":"tC"},
    "transform":[{"fold":["u1","u2","u3","u4","u5","u6","u7","u8"],"as":["cell","sag"]}],
    "mark":{"type":"line","color":"#0000ff","strokeWidth":2},
    "encoding":{
     "x":{"field":"I","type":"quantitative","scale":{"domain":[-306,0],"nice":false,"zero":false}},
     "y":{"field":"sag","type":"quantitative","scale":{"domain":[-27.5,2.5],"nice":false,"zero":false}},
     "detail":{"field":"cell","type":"nominal"}}},
   {"data":{"values":[{}]},"mark":{"type":"text","text":"C","fontSize":32,"align":"left","baseline":"alphabetic","color":"#000"},
    "encoding":{"x":{"datum":-376.7,"type":"quantitative","scale":{"domain":[-306,0],"nice":false,"zero":false}},
     "y":{"datum":-0.74,"type":"quantitative","scale":{"domain":[-27.5,2.5],"nice":false,"zero":false}}}}
  ]
 },
 {
  "width":420,"height":273,
  "layer":[
   {"data":{"name":"fR"},
    "mark":{"type":"line","color":"#ff0000","strokeWidth":1.5},
    "encoding":{
     "x":{"field":"I","type":"quantitative","scale":{"domain":[-306,0],"nice":false,"zero":false},
      "axis":{"values":[-300,-250,-200,-150,-100,-50,0],"tickCount":50,"tickSize":{"condition":{"test":"datum.value % 100 === 0","value":7},"value":4},"labelExpr":"datum.value % 100 === 0 ? '' + datum.value : ''","labelPadding":2,"title":"Current (pA)","titleX":214,"titleY":84,"titleBaseline":"alphabetic","titleAlign":"center","titleAngle":0}},
     "y":{"field":"v","type":"quantitative","scale":{"domain":[-15,1],"nice":false,"zero":false},
      "axis":{"values":[1,0,-1,-2,-3,-4,-5,-6,-7,-8,-9,-10,-11,-12,-13,-14,-15],"tickCount":50,"tickSize":{"condition":{"test":"datum.value % 2 === 0","value":7},"value":4},"labelExpr":"datum.value % 2 === 0 ? '' + datum.value : ''","labelPadding":6,"title":"Sag (mV)","titleX":-66,"titleY":148,"titleAngle":-90,"titleBaseline":"bottom","titleAlign":"center"}}}},
   {"data":{"name":"dR"},"mark":{"type":"rule","color":"#ff0000","strokeWidth":1.8},
    "encoding":{"x":{"field":"I","type":"quantitative","scale":{"domain":[-306,0],"nice":false,"zero":false}},
     "y":{"field":"lo","type":"quantitative","scale":{"domain":[-15,1],"nice":false,"zero":false}},"y2":{"field":"hi"}}},
   {"data":{"name":"dR"},"mark":{"type":"tick","orient":"horizontal","color":"#ff0000","size":9,"thickness":1.8,"opacity":1},
    "encoding":{"x":{"field":"I","type":"quantitative","scale":{"domain":[-306,0],"nice":false,"zero":false}},
     "y":{"field":"lo","type":"quantitative","scale":{"domain":[-15,1],"nice":false,"zero":false}}}},
   {"data":{"name":"dR"},"mark":{"type":"tick","orient":"horizontal","color":"#ff0000","size":9,"thickness":1.8,"opacity":1},
    "encoding":{"x":{"field":"I","type":"quantitative","scale":{"domain":[-306,0],"nice":false,"zero":false}},
     "y":{"field":"hi","type":"quantitative","scale":{"domain":[-15,1],"nice":false,"zero":false}}}},
   {"data":{"name":"dR"},"mark":{"type":"circle","color":"#ff0000","size":85,"opacity":1},
    "encoding":{"x":{"field":"I","type":"quantitative","scale":{"domain":[-306,0],"nice":false,"zero":false}},
     "y":{"field":"m","type":"quantitative","scale":{"domain":[-15,1],"nice":false,"zero":false}}}},
   {"data":{"name":"fB"},
    "mark":{"type":"line","color":"#0000ff","strokeWidth":1.5},
    "encoding":{"x":{"field":"I","type":"quantitative","scale":{"domain":[-306,0],"nice":false,"zero":false}},
     "y":{"field":"v","type":"quantitative","scale":{"domain":[-15,1],"nice":false,"zero":false}}}},
   {"data":{"name":"dB"},"mark":{"type":"rule","color":"#0000ff","strokeWidth":1.8},
    "encoding":{"x":{"field":"I","type":"quantitative","scale":{"domain":[-306,0],"nice":false,"zero":false}},
     "y":{"field":"lo","type":"quantitative","scale":{"domain":[-15,1],"nice":false,"zero":false}},"y2":{"field":"hi"}}},
   {"data":{"name":"dB"},"mark":{"type":"tick","orient":"horizontal","color":"#0000ff","size":9,"thickness":1.8,"opacity":1},
    "encoding":{"x":{"field":"I","type":"quantitative","scale":{"domain":[-306,0],"nice":false,"zero":false}},
     "y":{"field":"lo","type":"quantitative","scale":{"domain":[-15,1],"nice":false,"zero":false}}}},
   {"data":{"name":"dB"},"mark":{"type":"tick","orient":"horizontal","color":"#0000ff","size":9,"thickness":1.8,"opacity":1},
    "encoding":{"x":{"field":"I","type":"quantitative","scale":{"domain":[-306,0],"nice":false,"zero":false}},
     "y":{"field":"hi","type":"quantitative","scale":{"domain":[-15,1],"nice":false,"zero":false}}}},
   {"data":{"name":"dB"},"mark":{"type":"circle","color":"#0000ff","size":85,"opacity":1},
    "encoding":{"x":{"field":"I","type":"quantitative","scale":{"domain":[-306,0],"nice":false,"zero":false}},
     "y":{"field":"m","type":"quantitative","scale":{"domain":[-15,1],"nice":false,"zero":false}}}},
   {"data":{"values":[{}]},"mark":{"type":"text","text":"D","fontSize":32,"align":"left","baseline":"alphabetic","color":"#000"},
    "encoding":{"x":{"datum":-362.2,"type":"quantitative","scale":{"domain":[-306,0],"nice":false,"zero":false}},
     "y":{"datum":-0.7,"type":"quantitative","scale":{"domain":[-15,1],"nice":false,"zero":false}}}}
  ]
 }
]
}
